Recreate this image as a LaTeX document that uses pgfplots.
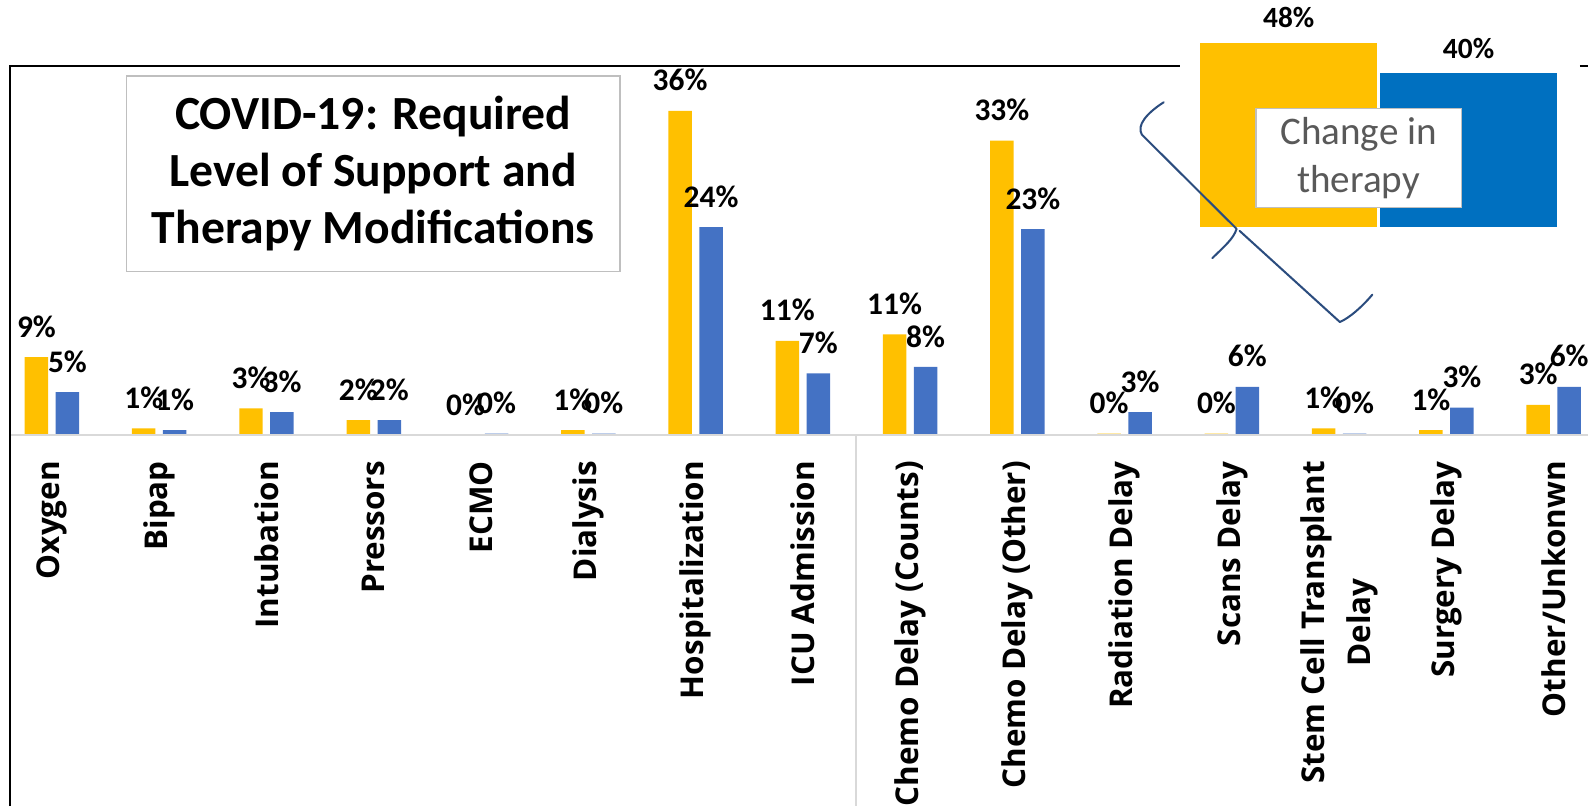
\documentclass[border=0pt]{standalone}
\usepackage{fontspec}
\setmainfont{Carlito}
\newfontfamily\osans{Open Sans}
\usepackage{pgfplots}
\pgfplotsset{compat=1.18}
\definecolor{cy}{HTML}{FFC000}
\definecolor{cb}{HTML}{4472C4}
\definecolor{cbb}{HTML}{0070C0}
\definecolor{gl}{HTML}{D9D9D9}
\definecolor{bx}{HTML}{BFBFBF}
\definecolor{tg}{HTML}{595959}
\definecolor{br}{HTML}{2B4C7E}
\begin{document}
\begin{tikzpicture}
\begin{axis}[
  at={(5pt,183pt)}, anchor=south west,
  width=779pt, height=182.5pt, scale only axis,
  xmin=-0.39, xmax=14.32, ymin=0, ymax=41,
  axis line style={draw=none},
  ytick=\empty,
  xtick={0,...,14},
  xticklabels={Oxygen,Bipap,Intubation,Pressors,ECMO,Dialysis,Hospitalization,ICU Admission,Chemo Delay (Counts),Chemo Delay (Other),Radiation Delay,Scans Delay,{Stem Cell Transplant\\Delay},Surgery Delay,Other/Unkonwn},
  xticklabel style={rotate=90, anchor=east, inner sep=0pt, align=center, font=\osans\bfseries\fontsize{15.5}{22.5}\selectfont},
  xticklabel shift=12.5pt,
  major tick length=0pt,
  ybar, bar width=11.6pt,
  clip=false,
  nodes near coords, point meta=explicit symbolic,
  every node near coord/.append style={font=\bfseries\fontsize{15.5}{18}\selectfont, inner sep=0pt, yshift=9.5pt, anchor=south, text=black},
]
\addplot[fill=cy, draw=none, bar shift=-7.65pt] coordinates {
 (0,8.7) [9\%] (1,0.8) [1\%] (2,3.0) [3\%] (3,1.7) [2\%] (4,0) [0\%]
 (5,0.6) [1\%] (6,36) [36\%] (7,10.5) [11\%] (8,11.2) [11\%] (9,32.7) [33\%]
 (10,0.2) [0\%] (11,0.2) [0\%] (12,0.8) [1\%] (13,0.6) [1\%] (14,3.4) [3\%]
};
\addplot[fill=cb, draw=none, bar shift=7.65pt] coordinates {
 (0,4.8) [5\%] (1,0.6) [1\%] (2,2.6) [3\%] (3,1.7) [2\%] (4,0.2) [0\%]
 (5,0.2) [0\%] (6,23.1) [24\%] (7,6.9) [7\%] (8,7.6) [8\%] (9,22.9) [23\%]
 (10,2.6) [3\%] (11,5.4) [6\%] (12,0.2) [0\%] (13,3.1) [3\%] (14,5.4) [6\%]
};
\draw[gl, line width=1pt] (rel axis cs:0,0) -- (rel axis cs:1,0);
\coordinate (sep) at (axis cs:7.5,0);
\end{axis}
\draw[gl, line width=1pt] (sep) -- (sep |- 0,0);
\begin{axis}[
  at={(591.9pt,286pt)}, anchor=south west,
  width=177.5pt, height=94.75pt, scale only axis,
  xmin=-0.5, xmax=1.5, ymin=0, ymax=50,
  hide axis, clip=false,
  ybar, bar width=87.5pt,
  nodes near coords, point meta=explicit symbolic,
  every node near coord/.append style={font=\bfseries\fontsize{14.5}{17}\selectfont, inner sep=0pt, yshift=7pt, anchor=south, text=black},
]
\addplot[fill=cy, draw=none, bar shift=0pt] coordinates {(0,48) [48\%]};
\addplot[fill=cbb, draw=none, bar shift=0pt] coordinates {(1,40) [40\%]};
\end{axis}
\node[draw=bx, line width=0.8pt, fill=white, minimum width=243.5pt, minimum height=96.5pt, align=center, inner sep=0pt, font=\bfseries\fontsize{23.5}{28}\selectfont] at (184.25pt,312.25pt) {COVID-19: Required\\Level of Support and\\Therapy Modifications};
\node[draw=bx, line width=0.8pt, fill=white, minimum width=101.5pt, minimum height=49pt, align=center, inner sep=0pt, text=tg, font=\fontsize{19.3}{23.5}\selectfont] at (670.75pt,320pt) {Change in\\therapy};
\draw[br, line width=1pt, line cap=round, line join=round]
  (574.5pt,347.5pt) .. controls (566pt,342pt) and (561pt,336pt) .. (563.75pt,331.5pt)
  -- (610.5pt,285pt) .. controls (609pt,280pt) and (604pt,276pt) .. (598.5pt,270.5pt);
\draw[br, line width=1pt, line cap=round, line join=round]
  (612pt,284pt) -- (661.5pt,239pt) .. controls (666pt,241pt) and (672pt,246pt) .. (677.5pt,252.5pt);
\draw[black, line width=1pt] (5pt,0pt) -- (5pt,365.5pt) -- (582.5pt,365.5pt);
\draw[black, line width=1pt] (780pt,365.5pt) -- (784pt,365.5pt);
\pgfresetboundingbox
\useasboundingbox (0,0) rectangle (784pt,398pt);
\end{tikzpicture}
\end{document}
